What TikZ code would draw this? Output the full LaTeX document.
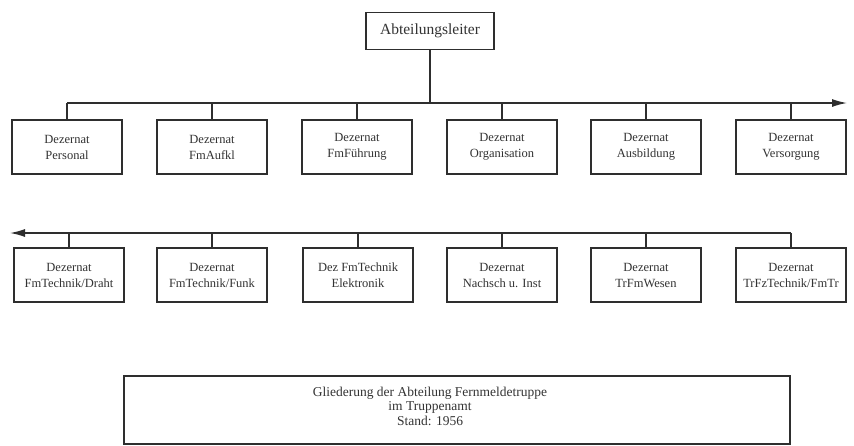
\documentclass[tikz,border=0pt]{standalone}
\usepackage{fontspec}
\setmainfont{Liberation Serif}
\usetikzlibrary{arrows.meta}
\definecolor{ink}{HTML}{2E2E2E}
\definecolor{txt}{HTML}{333333}
\begin{document}
\begin{tikzpicture}[x=1pt,y=-1pt,
  every node/.style={text=txt},
  headbox/.style={draw=ink,line width=1.6pt,minimum width=128pt,minimum height=37pt,
    inner sep=0pt,font=\fontsize{15.5}{18}\selectfont},
  unit/.style={draw=ink,line width=1.1pt,minimum width=110pt,minimum height=54pt,
    inner sep=0pt,align=center,font=\fontsize{12.5}{16}\selectfont},
  link/.style={draw=ink,line width=1.1pt},
  bus/.style={draw=ink,line width=1.4pt},
  tip/.style={-{Latex[length=15pt,width=8pt]}}]
\useasboundingbox (0,0) rectangle (854,445);
\fill[white] (0,0) rectangle (854,445);

% head of department
\node[headbox] (head) at (430,31) {Abteilungsleiter};

% first row of sections
\node[unit] (d1) at (67,147)  {Dezernat\\Personal};
\node[unit] (d2) at (212,147) {Dezernat\\FmAufkl};
\node[unit] (d3) at (357,147) {Dezernat\\FmFührung};
\node[unit] (d4) at (502,147) {Dezernat\\Organisation};
\node[unit] (d5) at (646,147) {Dezernat\\Ausbildung};
\node[unit] (d6) at (791,147) {Dezernat\\Versorgung};

% second row of sections
\node[unit] (e1) at (69,275)  {Dezernat\\FmTechnik/Draht};
\node[unit] (e2) at (212,275) {Dezernat\\FmTechnik/Funk};
\node[unit] (e3) at (358,275) {Dez FmTechnik\\Elektronik};
\node[unit] (e4) at (502,275) {Dezernat\\Nachsch u. Inst};
\node[unit] (e5) at (646,275) {Dezernat\\TrFmWesen};
\node[unit] (e6) at (791,275) {Dezernat\\TrFzTechnik/FmTr};

% bus lines
\coordinate (busA) at (0,103);
\coordinate (busB) at (0,233);
\coordinate (endA) at (847,103);
\coordinate (endB) at (10,233);

\draw[link] (head.south) -- (head.south |- busA);
\draw[bus,tip] (d1.north |- busA) -- (endA);
\foreach \n in {d1,d2,d3,d4,d5,d6}
  \draw[link] (\n.north) -- (\n.north |- busA);

\draw[bus,tip] (e6.north |- busB) -- (endB);
\foreach \n in {e1,e2,e3,e4,e5,e6}
  \draw[link] (\n.north) -- (\n.north |- busB);

% caption box
\node[draw=ink,line width=1.1pt,minimum width=666pt,minimum height=68pt,inner sep=0pt]
  (cap) at (457,410) {};
\node[align=center,font=\fontsize{13.5}{14.5}\selectfont] (captext) at (430,406)
  {Gliederung der Abteilung Fernmeldetruppe\\im Truppenamt\\Stand: 1956};
\end{tikzpicture}
\end{document}
